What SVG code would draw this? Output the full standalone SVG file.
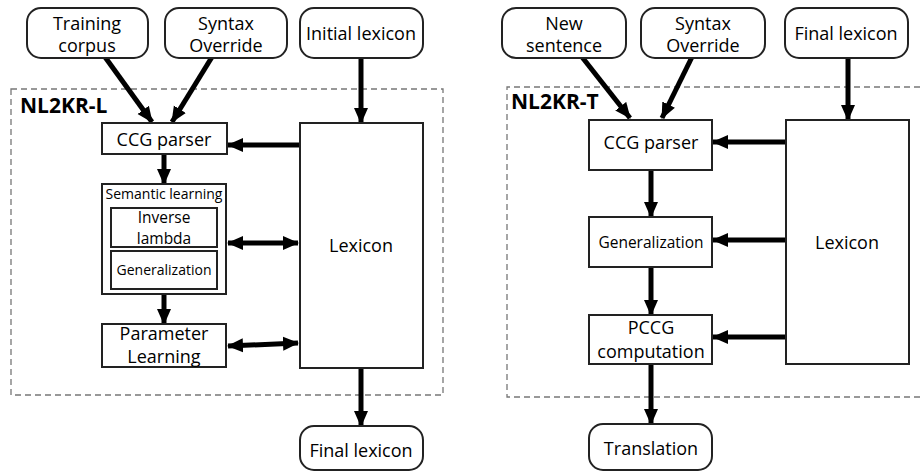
<svg xmlns="http://www.w3.org/2000/svg" width="920" height="472" viewBox="0 0 920 472">
<defs>
<style>
.t{font-family:"Open Sans","Liberation Sans",sans-serif;font-size:18px;fill:#000;text-anchor:middle}
.s{font-size:14px}
.m{font-size:15.5px}
.i{font-size:15.5px}
.b{font-family:"Open Sans","Liberation Sans",sans-serif;font-size:21px;font-weight:bold;fill:#000}
.box{fill:#fff;stroke:#222;stroke-width:2}
.dash{fill:none;stroke:#777;stroke-width:1.3;stroke-dasharray:6 4}
.c{stroke:#000;stroke-width:5;fill:none}
</style>
<marker id="ah" markerUnits="userSpaceOnUse" markerWidth="16" markerHeight="16" viewBox="0 0 16 16" refX="15" refY="8" orient="auto">
<path d="M0,1 L16,8 L0,15 Z" fill="#000"/>
</marker>
<marker id="as" markerUnits="userSpaceOnUse" markerWidth="16" markerHeight="16" viewBox="0 0 16 16" refX="1" refY="8" orient="auto">
<path d="M16,1 L0,8 L16,15 Z" fill="#000"/>
</marker>
</defs>
<rect class="dash" x="11" y="89" width="432" height="306"/>
<text class="b" x="20" y="113">NL2KR-L</text>
<path class="dash" d="M920,87 H507 V397 H920"/>
<text class="b" x="511" y="109">NL2KR-T</text>
<g id="connectors">
<line class="c" x1="105" y1="57" x2="152" y2="122" marker-end="url(#ah)"/>
<line class="c" x1="212" y1="57" x2="172" y2="122" marker-end="url(#ah)"/>
<line class="c" x1="361" y1="58" x2="361" y2="123" marker-end="url(#ah)"/>
<line class="c" x1="300" y1="145" x2="228" y2="145" marker-end="url(#ah)"/>
<line class="c" x1="164" y1="154" x2="164" y2="184" marker-end="url(#ah)"/>
<line class="c" x1="228" y1="243" x2="298" y2="243" marker-start="url(#as)" marker-end="url(#ah)"/>
<line class="c" x1="164" y1="294" x2="164" y2="324" marker-end="url(#ah)"/>
<line class="c" x1="228" y1="346" x2="298" y2="343" marker-start="url(#as)" marker-end="url(#ah)"/>
<line class="c" x1="361" y1="368" x2="361" y2="426" marker-end="url(#ah)"/>
<line class="c" x1="582" y1="57" x2="630" y2="118" marker-end="url(#ah)"/>
<line class="c" x1="692" y1="57" x2="662" y2="118" marker-end="url(#ah)"/>
<line class="c" x1="848" y1="58" x2="848" y2="120" marker-end="url(#ah)"/>
<line class="c" x1="786" y1="142" x2="713" y2="142" marker-end="url(#ah)"/>
<line class="c" x1="651" y1="170" x2="651" y2="217" marker-end="url(#ah)"/>
<line class="c" x1="786" y1="240" x2="713" y2="240" marker-end="url(#ah)"/>
<line class="c" x1="651" y1="267" x2="651" y2="315" marker-end="url(#ah)"/>
<line class="c" x1="786" y1="337" x2="713" y2="337" marker-end="url(#ah)"/>
<line class="c" x1="651" y1="364" x2="651" y2="424" marker-end="url(#ah)"/>
</g>
<g id="training-corpus"><rect class="box" x="27" y="8" width="121" height="50" rx="14"/><text class="t" x="87" y="30">Training</text><text class="t" x="87" y="52">corpus</text></g>
<g id="syntax-override-l"><rect class="box" x="165" y="8" width="122" height="50" rx="14"/><text class="t" x="226" y="30">Syntax</text><text class="t" x="226" y="52">Override</text></g>
<g id="initial-lexicon"><rect class="box" x="300" y="8" width="123" height="50" rx="14"/><text class="t" x="361" y="40">Initial lexicon</text></g>
<g id="ccg-parser-l"><rect class="box" x="102" y="123" width="125" height="31"/><text class="t" x="164" y="146">CCG parser</text></g>
<g id="lexicon-l"><rect class="box" x="300" y="123" width="123" height="245"/><text class="t" x="361" y="252">Lexicon</text></g>
<g id="semantic-learning"><rect class="box" x="102" y="184" width="124" height="110"/><text class="t s" x="164" y="199">Semantic learning</text>
<rect class="box" x="111" y="208" width="106" height="39"/><text class="t i" x="164" y="223">Inverse</text><text class="t i" x="164" y="244">lambda</text>
<rect class="box" x="111" y="251" width="106" height="38"/><text class="t s" x="164" y="275">Generalization</text></g>
<g id="parameter-learning"><rect class="box" x="102" y="324" width="124" height="43"/><text class="t" x="164" y="340">Parameter</text><text class="t" x="164" y="363">Learning</text></g>
<g id="final-lexicon-out"><rect class="box" x="300" y="426" width="123" height="44" rx="14"/><text class="t" x="361" y="457">Final lexicon</text></g>
<g id="new-sentence"><rect class="box" x="502" y="8" width="124" height="50" rx="14"/><text class="t" x="564" y="30">New</text><text class="t" x="564" y="52">sentence</text></g>
<g id="syntax-override-t"><rect class="box" x="641" y="8" width="124" height="50" rx="14"/><text class="t" x="703" y="30">Syntax</text><text class="t" x="703" y="52">Override</text></g>
<g id="final-lexicon-in"><rect class="box" x="785" y="8" width="123" height="50" rx="14"/><text class="t" x="846" y="40">Final lexicon</text></g>
<g id="ccg-parser-t"><rect class="box" x="589" y="120" width="123" height="50"/><text class="t" x="651" y="149">CCG parser</text></g>
<g id="lexicon-t"><rect class="box" x="786" y="120" width="123" height="244"/><text class="t" x="847" y="249">Lexicon</text></g>
<g id="generalization-t"><rect class="box" x="589" y="217" width="123" height="50"/><text class="t m" x="651" y="248">Generalization</text></g>
<g id="pccg"><rect class="box" x="589" y="315" width="123" height="49"/><text class="t" x="651" y="334">PCCG</text><text class="t" x="651" y="358">computation</text></g>
<g id="translation"><rect class="box" x="589" y="424" width="123" height="46" rx="14"/><text class="t" x="651" y="455">Translation</text></g>
</svg>
